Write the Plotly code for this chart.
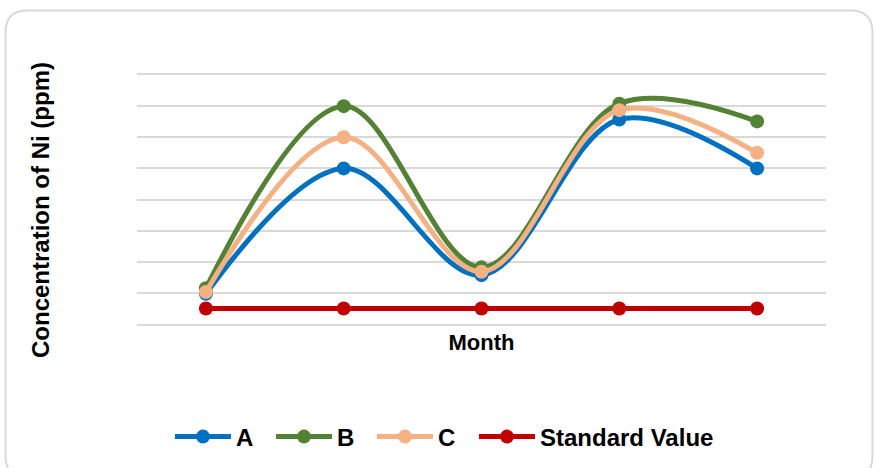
import plotly.graph_objects as go

# Nickel concentration by sampling month
months = [1, 2, 3, 4, 5]
series_a = [0.97, 5.0, 1.57, 6.57, 5.0]
series_b = [1.15, 7.0, 1.82, 7.08, 6.51]
series_c = [1.03, 6.0, 1.68, 6.87, 5.5]
standard_value = [0.5, 0.5, 0.5, 0.5, 0.5]

series = [
    ("A", series_a, "#0070C0", "spline", "legend"),
    ("B", series_b, "#548235", "spline", "legend"),
    ("C", series_c, "#F4B183", "spline", "legend"),
    ("Standard Value", standard_value, "#C00000", "linear", "legend2"),
]

W, H = 874, 468
ML, MR, MT, MB = 137, 48, 75, 144
PW, PH = W - ML - MR, H - MT - MB

fig = go.Figure()
for name, vals, color, shape, legend_id in series:
    fig.add_trace(go.Scatter(
        x=months, y=vals, name=name, mode="lines+markers",
        line=dict(color=color, width=5, shape=shape, smoothing=1),
        marker=dict(color=color, size=14),
        legend=legend_id,
    ))


def px_to_paper(px, py):
    return (px - ML) / PW, (H - MB - py) / PH


# rounded chart-area border
left, top, right, bottom, r = 5.5, 10.5, 872.5, 478, 22
rx, ry = r / PW, r / PH
x0, y1 = px_to_paper(left, top)
x1, y0 = px_to_paper(right, bottom)
path = (
    f"M{x0 + rx},{y1} L{x1 - rx},{y1} Q{x1},{y1} {x1},{y1 - ry} "
    f"L{x1},{y0 + ry} Q{x1},{y0} {x1 - rx},{y0} "
    f"L{x0 + rx},{y0} Q{x0},{y0} {x0},{y0 + ry} "
    f"L{x0},{y1 - ry} Q{x0},{y1} {x0 + rx},{y1} Z"
)
fig.add_shape(type="path", path=path, xref="paper", yref="paper",
              line=dict(color="#D9D9D9", width=2), layer="below")

font_family = "Liberation Sans, Arial, sans-serif"
ty_x, ty_y = px_to_paper(40, 210)
fig.add_annotation(
    text="Concentration of Ni (ppm)", textangle=-90,
    xref="paper", yref="paper", x=ty_x, y=ty_y,
    xanchor="center", yanchor="middle", showarrow=False,
    font=dict(family=font_family, size=24, color="#000000", weight="bold"),
)

grid_color = "#D9D9D9"
legend_font = dict(family=font_family, size=24, color="#000000", weight="bold")
legend_common = dict(
    orientation="h", xref="container", yref="container",
    xanchor="left", y=1 - 437 / H, yanchor="middle",
    font=legend_font, itemwidth=56,
)
fig.update_layout(
    width=W, height=H,
    margin=dict(l=ML, r=MR, t=MT, b=MB),
    paper_bgcolor="white", plot_bgcolor="white",
    showlegend=True,
    legend=dict(x=170 / W, entrywidth=30, **legend_common),
    legend2=dict(x=474 / W, **legend_common),
    xaxis=dict(
        range=[0.5, 5.5], showticklabels=False, showgrid=False,
        zeroline=False, ticks="",
        showline=True, mirror=True, linecolor=grid_color, linewidth=1.5,
        title=dict(text="Month", standoff=10,
                   font=dict(family=font_family, size=22, color="#000000", weight="bold")),
    ),
    yaxis=dict(
        range=[0, 8], dtick=1, showticklabels=False, ticks="",
        showgrid=True, gridcolor=grid_color, gridwidth=1.5,
        zeroline=False, showline=False,
    ),
)

fig.write_html("out.html")
